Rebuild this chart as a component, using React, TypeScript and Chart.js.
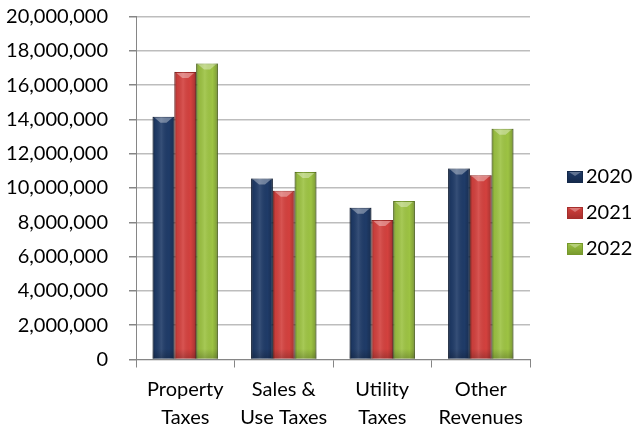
import React, { useEffect, useRef } from 'react';
import { Chart, registerables } from 'chart.js';

Chart.register(...registerables);

const categories: string[][] = [
  ['Property', 'Taxes'],
  ['Sales &', 'Use Taxes'],
  ['Utility', 'Taxes'],
  ['Other', 'Revenues'],
];
const seriesNames = ['2020', '2021', '2022'];
const values2020 = [14150000, 10560000, 8850000, 11140000];
const values2021 = [16770000, 9840000, 8130000, 10750000];
const values2022 = [17260000, 10940000, 9240000, 13450000];
const yMin = 0;
const yMax = 20000000;
const yStep = 2000000;

const seriesColors = ['#1F3B68', '#D3413E', '#9DC343'];
const seriesBorders = ['#14294A', '#A52E2C', '#76982C'];
const FONT = 'Lato';

const bevelPlugin = {
  id: 'bevel',
  afterDatasetsDraw(chart: any) {
    const ctx = chart.ctx;
    chart.data.datasets.forEach((_ds: any, di: number) => {
      const meta = chart.getDatasetMeta(di);
      meta.data.forEach((el: any) => {
        const { x, y, base, width } = el.getProps(['x', 'y', 'base', 'width'], true);
        const l = x - width / 2;
        const r = x + width / 2;
        const g = ctx.createLinearGradient(l, 0, r, 0);
        g.addColorStop(0, 'rgba(0,0,0,0.35)');
        g.addColorStop(0.12, 'rgba(0,0,0,0.05)');
        g.addColorStop(0.4, 'rgba(255,255,255,0.10)');
        g.addColorStop(0.75, 'rgba(0,0,0,0.0)');
        g.addColorStop(0.92, 'rgba(0,0,0,0.15)');
        g.addColorStop(1, 'rgba(0,0,0,0.4)');
        ctx.save();
        ctx.fillStyle = g;
        ctx.fillRect(l, y, width, base - y);
        const gb = ctx.createLinearGradient(0, base - 10, 0, base);
        gb.addColorStop(0, 'rgba(0,0,0,0)');
        gb.addColorStop(1, 'rgba(0,0,0,0.2)');
        ctx.fillStyle = gb;
        ctx.fillRect(l, base - 10, width, 10);
        ctx.beginPath();
        ctx.moveTo(l + 2, y + 1);
        ctx.lineTo(r - 2, y + 1);
        ctx.lineTo(x + 3, y + 6);
        ctx.lineTo(x - 3, y + 6);
        ctx.closePath();
        ctx.fillStyle = 'rgba(255,255,255,0.35)';
        ctx.fill();
        ctx.restore();
      });
    });
  },
};

const sideLegendPlugin = {
  id: 'sideLegend',
  afterDraw(chart: any) {
    const ctx = chart.ctx;
    ctx.save();
    ctx.font = `20px ${FONT}`;
    ctx.textBaseline = 'middle';
    ctx.textAlign = 'left';
    const n = chart.data.datasets.length;
    chart.data.datasets.forEach((ds: any, i: number) => {
      const cy = chart.height / 2 + (i - (n - 1) / 2) * 36;
      const bx = chart.chartArea.right + 37;
      const g = ctx.createLinearGradient(0, cy - 6, 0, cy + 6);
      g.addColorStop(0, ds.backgroundColor);
      g.addColorStop(1, ds.borderColor);
      ctx.fillStyle = g;
      ctx.fillRect(bx, cy - 6, 16, 12);
      ctx.strokeStyle = ds.borderColor;
      ctx.lineWidth = 1;
      ctx.strokeRect(bx + 0.5, cy - 5.5, 15, 11);
      ctx.beginPath();
      ctx.moveTo(bx + 2, cy - 5);
      ctx.lineTo(bx + 14, cy - 5);
      ctx.lineTo(bx + 8, cy - 1);
      ctx.closePath();
      ctx.fillStyle = 'rgba(255,255,255,0.3)';
      ctx.fill();
      ctx.fillStyle = '#000000';
      ctx.fillText(ds.label, bx + 19, cy);
    });
    ctx.restore();
  },
};

export default function App() {
  const ref = useRef<HTMLCanvasElement | null>(null);

  useEffect(() => {
    document.body.style.margin = '0';
    const canvas = ref.current;
    if (!canvas) return;
    const data = [values2020, values2021, values2022];
    const chart = new Chart(canvas, {
      type: 'bar',
      data: {
        labels: categories,
        datasets: seriesNames.map((name, i) => ({
          label: name,
          data: data[i],
          backgroundColor: seriesColors[i],
          borderColor: seriesBorders[i],
          borderWidth: 1,
          categoryPercentage: 0.663,
          barPercentage: 1,
        })),
      },
      options: {
        responsive: false,
        animation: false,
        layout: { padding: { top: 16.5, left: 6, right: 102, bottom: 2 } },
        plugins: {
          legend: { display: false },
          tooltip: { enabled: false },
        },
        scales: {
          x: {
            afterFit: (scale: any) => {
              scale.height = 64.5;
              scale.paddingLeft = 0;
              scale.paddingRight = 0;
            },
            grid: {
              offset: true,
              drawOnChartArea: false,
              drawTicks: true,
              tickLength: 8,
              color: '#868686',
            },
            border: { color: '#868686', width: 1 },
            ticks: {
              color: '#000000',
              font: { family: FONT, size: 20, lineHeight: 1.375 },
              padding: 8.5,
              maxRotation: 0,
              autoSkip: false,
            },
          },
          y: {
            min: yMin,
            max: yMax,
            afterFit: (scale: any) => {
              scale.width = 130;
              scale.paddingTop = 0;
              scale.paddingBottom = 0;
            },
            grid: {
              color: '#BDBDBD',
              lineWidth: 1.5,
              tickLength: 7,
              tickColor: '#868686',
            },
            border: { color: '#868686', width: 1 },
            ticks: {
              stepSize: yStep,
              color: '#000000',
              font: { family: FONT, size: 20 },
              padding: 21,
              callback: (v: any) => Number(v).toLocaleString('en-US'),
            },
          },
        },
      },
      plugins: [bevelPlugin, sideLegendPlugin],
    });
    return () => chart.destroy();
  }, []);

  return <canvas ref={ref} width={632} height={426} style={{ display: 'block' }} />;
}
